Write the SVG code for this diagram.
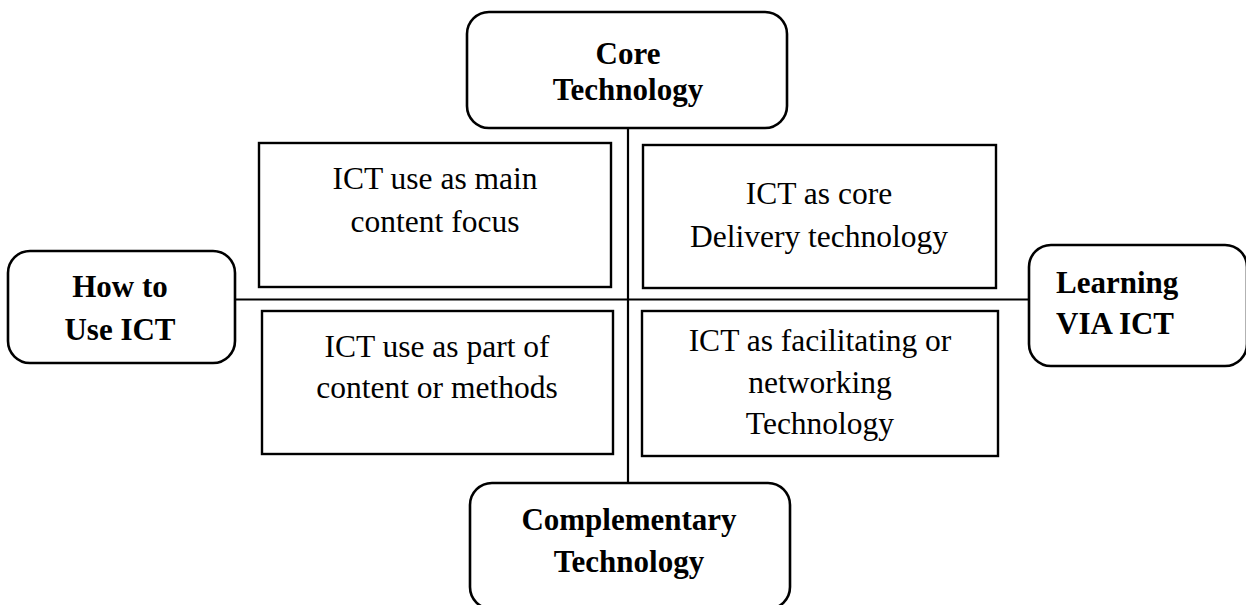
<svg xmlns="http://www.w3.org/2000/svg" width="1246" height="605" viewBox="0 0 1246 605">
<style>
.rb{fill:#fff;stroke:#000;stroke-width:2.6}
.sq{fill:#fff;stroke:#000;stroke-width:2.4}
.ln{stroke:#000;stroke-width:2.2;fill:none}
.b{font-family:"Liberation Serif","Times New Roman",serif;font-weight:bold;font-size:31px;fill:#000}
.r{font-family:"Liberation Serif","Times New Roman",serif;font-size:31.5px;fill:#000;text-anchor:middle}
</style>
<rect width="1246" height="605" fill="#fff"/>
<g id="connectors">
<line class="ln" x1="628" y1="128" x2="628" y2="483"/>
<line class="ln" x1="235" y1="299.5" x2="1029" y2="299.5"/>
</g>
<g id="core">
<rect class="rb" x="467" y="12" width="320" height="116" rx="22"/>
<text class="b" text-anchor="middle" x="628" y="64">Core</text>
<text class="b" text-anchor="middle" x="628" y="100">Technology</text>
</g>
<g id="howto">
<rect class="rb" x="8" y="251" width="227" height="112" rx="22"/>
<text class="b" text-anchor="middle" x="120" y="297">How to</text>
<text class="b" text-anchor="middle" x="120" y="340">Use ICT</text>
</g>
<g id="learning">
<rect class="rb" x="1029" y="245" width="218" height="121" rx="22"/>
<text class="b" x="1056" y="293">Learning</text>
<text class="b" x="1056" y="334">VIA ICT</text>
</g>
<g id="complementary">
<rect class="rb" x="470" y="483" width="320" height="126" rx="22"/>
<text class="b" text-anchor="middle" x="629" y="530">Complementary</text>
<text class="b" text-anchor="middle" x="629" y="572">Technology</text>
</g>
<g id="q1">
<rect class="sq" x="259" y="143" width="352" height="144"/>
<text class="r" x="435" y="189">ICT use as main</text>
<text class="r" x="435" y="232">content focus</text>
</g>
<g id="q2">
<rect class="sq" x="643" y="145" width="353" height="143"/>
<text class="r" x="819" y="204">ICT as core</text>
<text class="r" x="819" y="247">Delivery technology</text>
</g>
<g id="q3">
<rect class="sq" x="262" y="311" width="351" height="143"/>
<text class="r" x="437" y="357">ICT use as part of</text>
<text class="r" x="437" y="398">content or methods</text>
</g>
<g id="q4">
<rect class="sq" x="642" y="311" width="356" height="145"/>
<text class="r" x="820" y="351">ICT as facilitating or</text>
<text class="r" x="820" y="393">networking</text>
<text class="r" x="820" y="434">Technology</text>
</g>
</svg>
